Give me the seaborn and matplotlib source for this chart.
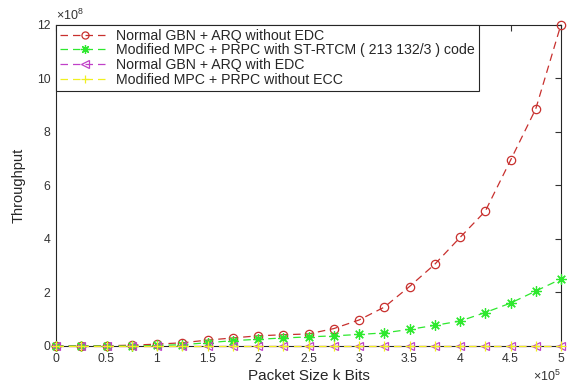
import matplotlib
matplotlib.use("Agg")
import matplotlib.pyplot as plt
import matplotlib.ticker as mticker
import numpy as np
import pandas as pd
import seaborn as sns

# ---- data ----
packet_size = [0, 25000, 50000, 75000, 100000, 125000, 150000, 175000, 200000,
               225000, 250000, 275000, 300000, 325000, 350000, 375000, 400000,
               425000, 450000, 475000, 500000]
# throughput values in units of 1e8
gbn_no_edc = [0, 0.002, 0.01, 0.03, 0.07, 0.12, 0.22, 0.30, 0.38, 0.42, 0.45,
              0.65, 0.97, 1.45, 2.22, 3.05, 4.05, 5.03, 6.93, 8.85, 12.0]
mpc_strtcm = [0, 0, 0, 0, 0.02, 0.05, 0.12, 0.20, 0.25, 0.30, 0.34, 0.38,
              0.43, 0.49, 0.62, 0.77, 0.93, 1.25, 1.60, 2.05, 2.50]
gbn_edc = [0] * 21
mpc_no_ecc = [0] * 21

labels = ["Normal GBN + ARQ without EDC",
          "Modified MPC + PRPC with ST-RTCM ( 213 132/3 ) code",
          "Normal GBN + ARQ with EDC",
          "Modified MPC + PRPC without ECC"]
x_ticks = [0, 50000, 100000, 150000, 200000, 250000, 300000, 350000, 400000, 450000, 500000]
y_ticks = [0, 2e8, 4e8, 6e8, 8e8, 10e8, 12e8]

sns.set_style("white")
plt.rcParams['font.family'] = ['Liberation Sans', 'DejaVu Sans']
plt.rcParams['mathtext.fontset'] = 'custom'
plt.rcParams['mathtext.rm'] = 'Liberation Sans'


class CleanSci(mticker.ScalarFormatter):
    def _set_format(self):
        self.format = '%g'


fig = plt.figure(figsize=(5.69, 3.89), dpi=100)
ax = fig.add_axes([56 / 569, 1 - 346 / 389, 505 / 569, (346 - 24.5) / 389])

series = [
    (gbn_no_edc, "#c8302e", "o", 6, dict(markerfacecolor="none")),
    (mpc_strtcm, "#2ee82e", (8, 2, 0), 7.5, dict()),
    (gbn_edc, "#c040c8", "<", 6, dict(markerfacecolor="none")),
    (mpc_no_ecc, "#f0f020", "+", 7, dict()),
]
for (vals, col, mk, ms, extra), lab in zip(series, labels):
    df = pd.DataFrame({"x": packet_size, "y": np.array(vals) * 1e8})
    sns.lineplot(data=df, x="x", y="y", ax=ax, color=col, marker=mk,
                 markersize=ms, linestyle=(0, (6, 4)), linewidth=0.9,
                 markeredgecolor=col, markeredgewidth=0.9, label=lab,
                 clip_on=False, sort=False, estimator=None, zorder=3, **extra)

ax.set_xlim(0, 500000)
ax.set_ylim(0, 12e8)
ax.set_xticks(x_ticks)
ax.set_yticks(y_ticks)
fmt_x = CleanSci(useMathText=True)
fmt_x.set_powerlimits((5, 5))
fmt_y = CleanSci(useMathText=True)
fmt_y.set_powerlimits((8, 8))
ax.xaxis.set_major_formatter(fmt_x)
ax.yaxis.set_major_formatter(fmt_y)

tick_col = "#333333"
ax.tick_params(direction='in', length=4, width=0.8, colors=tick_col,
               labelsize=8.8, top=True, right=True)
ax.tick_params(axis='x', pad=5)
ax.tick_params(axis='y', pad=4)
for s in ax.spines.values():
    s.set_color("#262626")
    s.set_linewidth(0.8)
ax.xaxis.get_offset_text().set_fontsize(9)
ax.yaxis.get_offset_text().set_fontsize(9)
ax.xaxis.get_offset_text().set_color(tick_col)
ax.yaxis.get_offset_text().set_color(tick_col)

ax.set_xlabel("Packet Size k Bits", fontsize=11, color="#262626", labelpad=3)
ax.set_ylabel("Throughput", fontsize=10.5, color="#262626", labelpad=8)

leg = ax.legend(loc="upper left", bbox_to_anchor=(0, 1), borderaxespad=0,
                fontsize=10.2, frameon=True, fancybox=False, edgecolor="#262626",
                framealpha=1, handlelength=3.5, handletextpad=0.4,
                labelspacing=0.05, borderpad=0.3, numpoints=1, markerscale=0.85)
leg.get_frame().set_linewidth(0.8)
for t in leg.get_texts():
    t.set_color("#262626")

fig.savefig("out.png", dpi=100)
